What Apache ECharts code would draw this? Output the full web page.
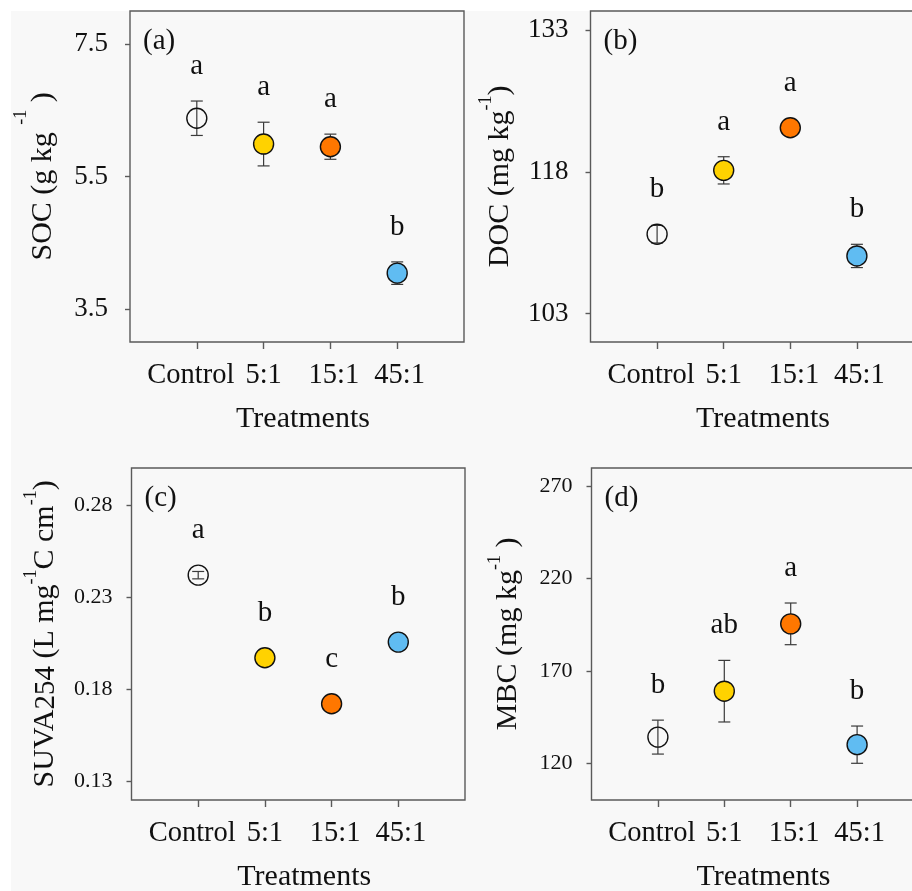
<!DOCTYPE html>
<html>
<head>
<meta charset="utf-8">
<script src="https://cdn.jsdelivr.net/npm/echarts@6/dist/echarts.min.js"></script>
<style>
  html, body { margin: 0; padding: 0; background: #ffffff; }
  #sheet { position: absolute; left: 11px; top: 11px; width: 901px; height: 880px; background: #f8f8f8; }
  #chart { position: absolute; left: 0; top: 0; width: 912px; height: 891px; }
</style>
</head>
<body>
<div id="sheet"></div>
<div id="chart"></div>
<script>
// Treatment groups (C:N ratio of the amendment)
const treatments = ['Control', '5:1', '15:1', '45:1'];
const markerFills = ['transparent', '#FFD200', '#FF7700', '#60BCF2'];

// (a) Soil organic carbon, g kg-1
const socMean = [6.38, 5.99, 5.95, 4.04];
const socSE = [0.26, 0.33, 0.19, 0.17];
const socLetters = ['a', 'a', 'a', 'b'];
const socTicks = [3.5, 5.5, 7.5];

// (b) Dissolved organic carbon, mg kg-1
const docMean = [111.4, 118.15, 122.65, 109.1];
const docSE = [0.93, 1.44, 0.5, 1.23];
const docLetters = ['b', 'a', 'a', 'b'];
const docTicks = [103, 118, 133];

// (c) Specific UV absorbance at 254 nm
const suvaMean = [0.2419, 0.1971, 0.1722, 0.2056];
const suvaSE = [0.002, 0.001, 0.001, 0.001];
const suvaLetters = ['a', 'b', 'c', 'b'];
const suvaTicks = [0.13, 0.18, 0.23, 0.28];

// (d) Microbial biomass carbon, mg kg-1
const mbcMean = [134.1, 159.0, 195.5, 130.0];
const mbcSE = [9.2, 16.7, 11.3, 10.1];
const mbcLetters = ['b', 'ab', 'a', 'b'];
const mbcTicks = [120, 170, 220, 270];

const FONT = '"Liberation Serif", "Times New Roman", serif';
const FRAME = '#5a5a5a';
const INK = '#111111';

// Axis-title layout: mainLine = line box of the regular text, boxH = total
// rotated line height (superscripts hang from its outer edge).
const panels = [
  { tag: '(a)', mean: socMean, se: socSE, letters: socLetters, ticks: socTicks, min: 3, max: 8, dec: 1,
    grid: { left: 130, top: 11, width: 334, height: 331 }, tickFont: 27, labelMargin: 22,
    nameGap: 72, mainLine: 30, boxH: 46,
    name: '{h| }{m|SOC (g kg }{s|-1}{m| )}' },
  { tag: '(b)', mean: docMean, se: docSE, letters: docLetters, ticks: docTicks, min: 100, max: 135, dec: 0,
    grid: { left: 590.5, top: 11, width: 333, height: 331 }, tickFont: 27, labelMargin: 22,
    nameGap: 75, mainLine: 30, boxH: 38,
    name: '{h| }{m|DOC (mg kg}{s|-1}{m|)}' },
  { tag: '(c)', mean: suvaMean, se: suvaSE, letters: suvaLetters, ticks: suvaTicks, min: 0.12, max: 0.30, dec: 2,
    grid: { left: 131.5, top: 468, width: 333.5, height: 332 }, tickFont: 22, labelMargin: 19,
    nameGap: 71, mainLine: 38, boxH: 38,
    name: '{h| }{m|SUVA}{b|254}{m| (L mg}{s|-1}{m|C cm}{s|-1}{m|)}' },
  { tag: '(d)', mean: mbcMean, se: mbcSE, letters: mbcLetters, ticks: mbcTicks, min: 100, max: 280, dec: 0,
    grid: { left: 591.5, top: 468, width: 332, height: 332 }, tickFont: 22, labelMargin: 19,
    nameGap: 68, mainLine: 30, boxH: 37,
    name: '{h| }{m|MBC (mg kg}{s|-1}{m| )}' }
];

function richFor(p) {
  return {
    h: { fontFamily: FONT, fontSize: 1, lineHeight: p.boxH, color: 'transparent' },
    m: { fontFamily: FONT, fontSize: 30, lineHeight: p.mainLine, color: INK, verticalAlign: 'bottom' },
    b: { fontFamily: FONT, fontSize: 29, lineHeight: 30, color: INK, verticalAlign: 'bottom' },
    s: { fontFamily: FONT, fontSize: 18, lineHeight: 17, color: INK, verticalAlign: 'top' }
  };
}

// category tick labels: slight horizontal nudges so the long "Control" clears "5:1"
const catLabelRich = {
  c0: { fontFamily: FONT, fontSize: 28.5, color: INK, padding: [0, 12, 0, 0] },
  c1: { fontFamily: FONT, fontSize: 28.5, color: INK },
  c2: { fontFamily: FONT, fontSize: 28.5, color: INK, padding: [0, 0, 0, 7] },
  c3: { fontFamily: FONT, fontSize: 28.5, color: INK, padding: [0, 0, 0, 5] }
};

function errorBarRenderer(letters) {
  return function (params, api) {
    const x = api.value(0), m = api.value(1), s = api.value(2);
    const c = api.coord([x, m]);
    const t = api.coord([x, m + s]);
    const b = api.coord([x, m - s]);
    const cap = 6;
    const ls = { stroke: '#3a3a3a', lineWidth: 1.2 };
    const above = Math.min(t[1], c[1] - 10);
    return {
      type: 'group',
      children: [
        { type: 'line', shape: { x1: c[0], y1: t[1], x2: c[0], y2: b[1] }, style: ls },
        { type: 'line', shape: { x1: c[0] - cap, y1: t[1], x2: c[0] + cap, y2: t[1] }, style: ls },
        { type: 'line', shape: { x1: c[0] - cap, y1: b[1], x2: c[0] + cap, y2: b[1] }, style: ls },
        { type: 'text', x: c[0], y: above - 20,
          style: { text: letters[params.dataIndex], font: '29px ' + FONT, fill: INK, align: 'center', verticalAlign: 'bottom' } }
      ]
    };
  };
}

const catPos = treatments.map((_, i) => i + 1);

const option = {
  animation: false,
  backgroundColor: 'transparent',
  grid: panels.map(p => Object.assign({ show: true, borderColor: FRAME, borderWidth: 1.4, backgroundColor: 'transparent',
    containLabel: false, outerBoundsMode: 'none' }, p.grid)),
  xAxis: panels.map((p, i) => ({
    type: 'value', gridIndex: i, min: 0, max: 5,
    axisLine: { show: false },
    splitLine: { show: false },
    axisTick: { show: true, inside: false, length: 7, customValues: catPos, lineStyle: { color: FRAME, width: 1.4 } },
    axisLabel: { show: true, customValues: catPos, margin: 19, color: INK, fontFamily: FONT, fontSize: 28.5,
      rich: catLabelRich,
      formatter: v => {
        const k = Math.round(v) - 1;
        return treatments[k] ? '{c' + k + '|' + treatments[k] + '}' : '';
      } },
    name: 'Treatments', nameLocation: 'middle', nameGap: 62, nameMoveOverlap: false,
    nameTextStyle: { fontFamily: FONT, fontSize: 30, color: INK, padding: [0, 0, 0, 12] }
  })),
  yAxis: panels.map((p, i) => ({
    type: 'value', gridIndex: i, min: p.min, max: p.max,
    axisLine: { show: false },
    splitLine: { show: false },
    axisTick: { show: true, inside: false, length: 5, customValues: p.ticks, lineStyle: { color: FRAME, width: 1.4 } },
    axisLabel: { show: true, customValues: p.ticks, margin: p.labelMargin, color: INK, fontFamily: FONT,
      fontSize: p.tickFont, formatter: v => Number(v).toFixed(p.dec) },
    name: p.name, nameLocation: 'middle', nameRotate: 90, nameGap: p.nameGap, nameMoveOverlap: false,
    nameTextStyle: { rich: richFor(p) }
  })),
  graphic: panels.map(p => ({
    type: 'text', left: p.grid.left + 13, top: p.grid.top + 16, z: 10,
    style: { text: p.tag, font: '29px ' + FONT, fill: INK }
  })),
  series: []
};

panels.forEach((p, i) => {
  option.series.push({
    type: 'custom', xAxisIndex: i, yAxisIndex: i, z: 2, silent: true,
    renderItem: errorBarRenderer(p.letters),
    encode: { x: 0, y: 1 },
    data: p.mean.map((v, k) => [catPos[k], v, p.se[k]])
  });
  option.series.push({
    type: 'scatter', xAxisIndex: i, yAxisIndex: i, z: 3, silent: true,
    symbol: 'circle', symbolSize: 20,
    itemStyle: { borderColor: INK, borderWidth: 1.4, opacity: 1 },
    data: p.mean.map((v, k) => ({ value: [catPos[k], v], itemStyle: { color: markerFills[k] } }))
  });
});

const chart = echarts.init(document.getElementById('chart'), null, { renderer: 'canvas' });
chart.setOption(option);
</script>
</body>
</html>
